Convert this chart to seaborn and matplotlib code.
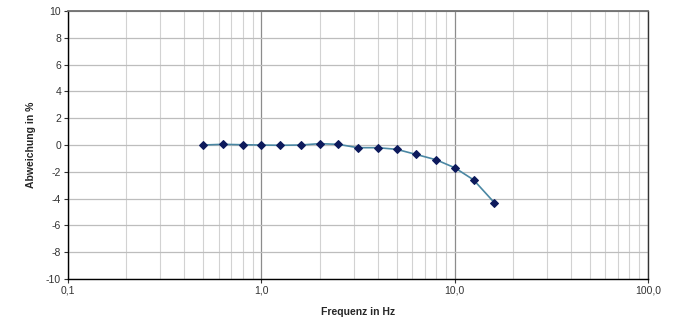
import seaborn as sns
import numpy as np
import pandas as pd
import matplotlib.pyplot as plt
from matplotlib.ticker import FixedLocator, FuncFormatter, LogLocator, NullFormatter

freq = [0.5, 0.63, 0.8, 1.0, 1.25, 1.6, 2.0, 2.5, 3.15, 4.0, 5.0, 6.3, 8.0, 10.0, 12.5, 16.0]
abweichung = [0.0, 0.05, 0.02, 0.0, -0.02, 0.0, 0.1, 0.05, -0.2, -0.2, -0.32, -0.7, -1.1, -1.7, -2.6, -4.3]
y_ticks = list(range(-10, 11, 2))
x_ticks = [0.1, 1.0, 10.0, 100.0]

df = pd.DataFrame({"f": freq, "dev": abweichung})

sns.set_style("white")
plt.rcParams['font.family'] = ['Liberation Sans', 'DejaVu Sans']
plt.rcParams['axes.unicode_minus'] = False

fig = plt.figure(figsize=(6.82, 3.22), dpi=100)
ax = fig.add_axes([0.0997, 0.1335, 0.8508, 0.8323])

sns.lineplot(data=df, x="f", y="dev", ax=ax, color="#4a87a3", linewidth=1.2,
             marker="D", markersize=4.5, markerfacecolor="#0d1a5c",
             markeredgecolor="#0d1a5c", zorder=3)

ax.set_xscale("log")
ax.set_xlim(0.1, 100)
ax.set_ylim(-10, 10)

ax.xaxis.set_major_locator(FixedLocator(x_ticks))
ax.xaxis.set_minor_locator(LogLocator(base=10, subs=np.arange(2, 10)))
ax.xaxis.set_minor_formatter(NullFormatter())
ax.xaxis.set_major_formatter(FuncFormatter(lambda v, p: f"{v:.1f}".replace(".", ",")))
ax.set_yticks(y_ticks)

ax.grid(which="major", axis="x", color="#8c8c8c", linewidth=0.9)
ax.grid(which="minor", axis="x", color="#d2d2d2", linewidth=0.8)
ax.grid(which="major", axis="y", color="#bdbdbd", linewidth=0.9)
ax.set_axisbelow(True)

ax.tick_params(axis="both", which="major", direction="out", length=3, width=0.8,
               labelsize=7.5, colors="#333333", pad=2, bottom=True, left=True)
ax.tick_params(axis="x", which="minor", length=0)

for side in ["left", "bottom"]:
    ax.spines[side].set_color("black")
    ax.spines[side].set_linewidth(1.0)
ax.spines["top"].set_color("#6e6e6e")
ax.spines["top"].set_linewidth(1.3)
ax.spines["right"].set_color("#333333")
ax.spines["right"].set_linewidth(1.0)

ax.set_xlabel("Frequenz in Hz", fontsize=7.5, fontweight="bold", labelpad=8)
ax.set_ylabel("Abweichung in %", fontsize=7.5, fontweight="bold", labelpad=7)

fig.savefig("out.png", dpi=100)
